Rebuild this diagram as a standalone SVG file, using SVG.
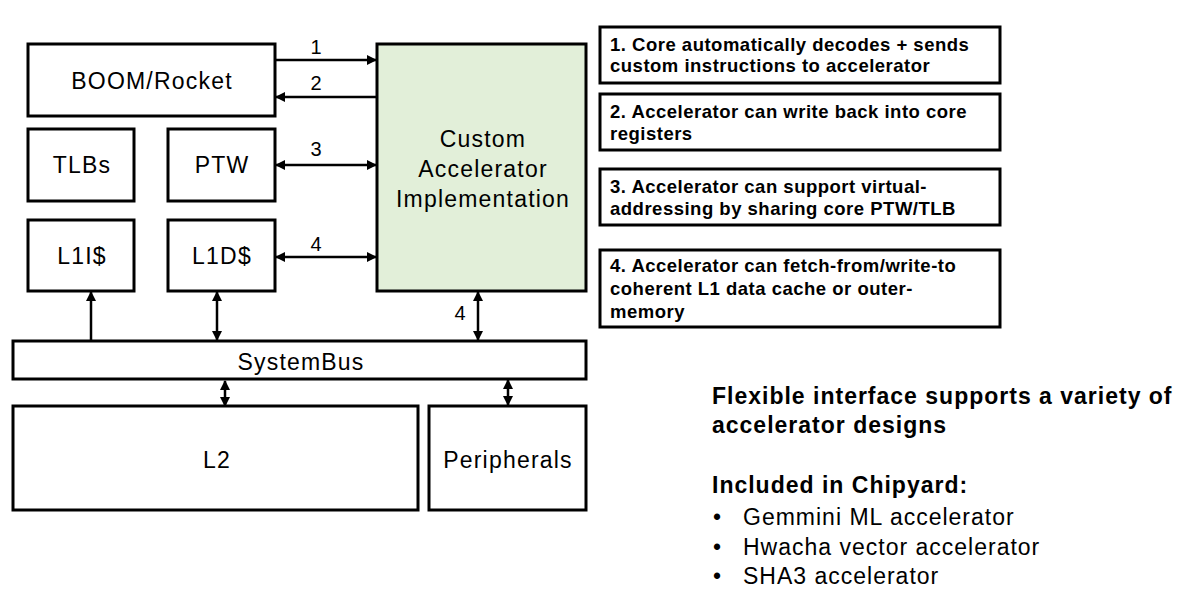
<svg xmlns="http://www.w3.org/2000/svg" width="1185" height="606" viewBox="0 0 1185 606">
<defs>
<marker id="ah" viewBox="0 0 10 10" refX="9" refY="5" markerWidth="4" markerHeight="4" orient="auto-start-reverse" markerUnits="strokeWidth">
<path d="M0,0 L10,5 L0,10 z" fill="#000"/>
</marker>
<style>
.box{fill:#fff;stroke:#000;stroke-width:3}
.acc{fill:#e2efd9;stroke:#000;stroke-width:3}
.t{font-family:"Liberation Sans",Arial,sans-serif;font-size:23px;letter-spacing:1.2px;fill:#000;text-anchor:middle}
.n{font-family:"Liberation Sans",Arial,sans-serif;font-size:20px;fill:#000;text-anchor:middle}
.b{font-family:"Liberation Sans",Arial,sans-serif;font-size:18.5px;letter-spacing:0.5px;font-weight:bold;fill:#000}
.h{font-family:"Liberation Sans",Arial,sans-serif;font-size:23px;letter-spacing:1px;font-weight:bold;fill:#000}
.r{font-family:"Liberation Sans",Arial,sans-serif;font-size:23px;letter-spacing:1px;fill:#000}
.c{stroke:#000;stroke-width:2.5;fill:none}
</style>
</defs>
<rect width="1185" height="606" fill="#fff"/>
<g id="boom"><rect class="box" x="28" y="44" width="247" height="72"/><text class="t" x="152" y="89">BOOM/Rocket</text></g>
<g id="accel"><rect class="acc" x="377" y="44" width="209" height="247"/>
<text class="t" x="483" y="147">Custom</text><text class="t" x="483" y="177">Accelerator</text><text class="t" x="483" y="207">Implementation</text></g>
<g id="tlbs"><rect class="box" x="28" y="129" width="106" height="72"/><text class="t" x="82" y="173">TLBs</text></g>
<g id="ptw"><rect class="box" x="168" y="129" width="107" height="72"/><text class="t" x="222" y="173">PTW</text></g>
<g id="l1i"><rect class="box" x="28" y="220" width="106" height="71"/><text class="t" x="82" y="264">L1I$</text></g>
<g id="l1d"><rect class="box" x="168" y="220" width="107" height="71"/><text class="t" x="222" y="264">L1D$</text></g>
<g id="sysbus"><rect class="box" x="13" y="341" width="573" height="38"/><text class="t" x="301" y="370">SystemBus</text></g>
<g id="l2"><rect class="box" x="13" y="406" width="405" height="104"/><text class="t" x="217" y="468">L2</text></g>
<g id="periph"><rect class="box" x="429" y="406" width="157" height="104"/><text class="t" x="508" y="468">Peripherals</text></g>
<g id="connectors">
<line class="c" x1="275" y1="60" x2="376" y2="60" marker-end="url(#ah)"/>
<line class="c" x1="376" y1="97" x2="276" y2="97" marker-end="url(#ah)"/>
<line class="c" x1="276" y1="165" x2="376" y2="165" marker-start="url(#ah)" marker-end="url(#ah)"/>
<line class="c" x1="276" y1="257" x2="376" y2="257" marker-start="url(#ah)" marker-end="url(#ah)"/>
<line class="c" x1="91" y1="340" x2="91" y2="292" marker-end="url(#ah)"/>
<line class="c" x1="217" y1="292" x2="217" y2="340" marker-start="url(#ah)" marker-end="url(#ah)"/>
<line class="c" x1="478" y1="292" x2="478" y2="340" marker-start="url(#ah)" marker-end="url(#ah)"/>
<line class="c" x1="225" y1="381" x2="225" y2="406" marker-start="url(#ah)" marker-end="url(#ah)"/>
<line class="c" x1="508" y1="380" x2="508" y2="405" marker-start="url(#ah)" marker-end="url(#ah)"/>
<text class="n" x="316" y="54">1</text>
<text class="n" x="316" y="90">2</text>
<text class="n" x="316" y="156">3</text>
<text class="n" x="316" y="251">4</text>
<text class="n" x="460" y="320">4</text>
</g>
<g id="note1"><rect class="box" x="600" y="27" width="400" height="56"/>
<text class="b" x="610" y="51">1. Core automatically decodes + sends</text><text class="b" x="610" y="72">custom instructions to accelerator</text></g>
<g id="note2"><rect class="box" x="600" y="94" width="400" height="56"/>
<text class="b" x="610" y="118">2. Accelerator can write back into core</text><text class="b" x="610" y="140">registers</text></g>
<g id="note3"><rect class="box" x="600" y="169" width="400" height="56"/>
<text class="b" x="610" y="193">3. Accelerator can support virtual-</text><text class="b" x="610" y="215">addressing by sharing core PTW/TLB</text></g>
<g id="note4"><rect class="box" x="600" y="250" width="400" height="77"/>
<text class="b" x="610" y="272">4. Accelerator can fetch-from/write-to</text><text class="b" x="610" y="295">coherent L1 data cache or outer-</text><text class="b" x="610" y="318">memory</text></g>
<g id="side">
<text class="h" x="712" y="404">Flexible interface supports a variety of</text>
<text class="h" x="712" y="433">accelerator designs</text>
<text class="h" x="712" y="493">Included in Chipyard:</text>
<text class="r" x="713" y="525">•</text><text class="r" x="743" y="525">Gemmini ML accelerator</text>
<text class="r" x="713" y="555">•</text><text class="r" x="743" y="555">Hwacha vector accelerator</text>
<text class="r" x="713" y="584">•</text><text class="r" x="743" y="584">SHA3 accelerator</text>
</g>
</svg>
